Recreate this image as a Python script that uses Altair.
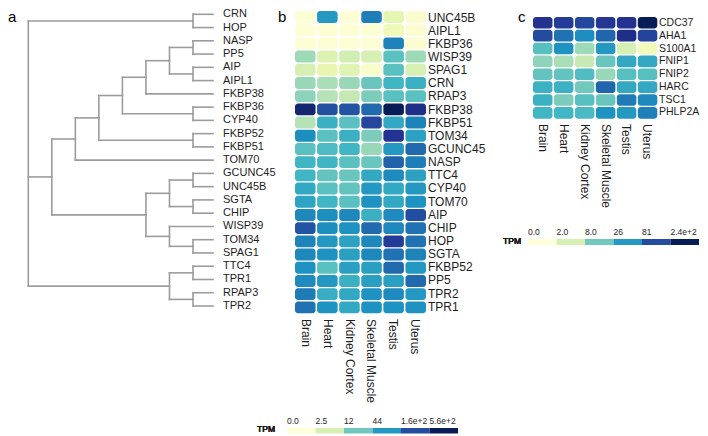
import math
import altair as alt
import pandas as pd

FONT = "Liberation Sans"
TXT = "#1e1e1e"

# ---------------- data ----------------
tissues = ["Brain", "Heart", "Kidney Cortex", "Skeletal Muscle", "Testis", "Uterus"]

# dendrogram (panel a): leaf order and merges (children, merge height)
leaf_order = ["CRN", "HOP", "NASP", "PP5", "AIP", "AIPL1", "FKBP38", "FKBP36", "CYP40",
              "FKBP52", "FKBP51", "TOM70", "GCUNC45", "UNC45B", "SGTA", "CHIP", "WISP39",
              "TOM34", "SPAG1", "TTC4", "TPR1", "RPAP3", "TPR2"]
merge_names = ["m_crn", "m_nasp", "m_aip", "m_fk36", "m_fk52", "m_gc", "m_sgta", "m_tom34",
               "m_ttc4", "m_rpap", "m2a", "m3a", "m4a", "m5a", "m6a", "m2b", "m2c", "m3b",
               "m7", "m2d", "root"]
merge_children = [["CRN", "HOP"], ["NASP", "PP5"], ["AIP", "AIPL1"], ["FKBP36", "CYP40"],
                  ["FKBP52", "FKBP51"], ["GCUNC45", "UNC45B"], ["SGTA", "CHIP"],
                  ["TOM34", "SPAG1"], ["TTC4", "TPR1"], ["RPAP3", "TPR2"],
                  ["m_nasp", "m_aip"], ["m2a", "FKBP38"], ["m3a", "m_fk36"], ["m4a", "m_fk52"],
                  ["m5a", "TOM70"], ["m_gc", "m_sgta"], ["WISP39", "m_tom34"], ["m2b", "m2c"],
                  ["m6a", "m3b"], ["m_ttc4", "m_rpap"], ["m_crn", "m7", "m2d"]]
merge_heights = [0.85, 0.85, 0.85, 0.85, 0.85, 0.85, 0.85, 0.85, 0.85, 0.85,
                 1.85, 2.85, 3.85, 4.85, 5.85, 1.85, 1.85, 2.85, 6.85, 1.85, 7.85]

# heatmap b (TPM)
b_genes = ["UNC45B", "AIPL1", "FKBP36", "WISP39", "SPAG1", "CRN", "RPAP3", "FKBP38",
           "FKBP51", "TOM34", "GCUNC45", "NASP", "TTC4", "CYP40", "TOM70", "AIP", "CHIP",
           "HOP", "SGTA", "FKBP52", "PP5", "TPR2", "TPR1"]
b_tpm = [
    [0.1, 44, 0.1, 69, 1.6, 0.2],
    [0.1, 0.1, 0.1, 0.1, 0.9, 0.2],
    [0.1, 0.1, 0.1, 0.1, 64, 0.2],
    [6.6, 2.1, 3.0, 2.5, 16, 6.6],
    [2.5, 1.4, 1.9, 0.3, 16, 2.5],
    [7.1, 5.7, 7.1, 13, 23, 26],
    [8.2, 4.9, 3.9, 10, 16, 16],
    [408, 150, 138, 94, 560, 297],
    [4.9, 26, 16, 179, 31, 64],
    [53, 16, 26, 10, 262, 36],
    [16, 19, 23, 7.1, 44, 94],
    [23, 23, 16, 13, 107, 69],
    [23, 14, 13, 31, 57, 36],
    [31, 16, 14, 44, 31, 44],
    [34, 23, 16, 50, 31, 50],
    [60, 53, 60, 26, 57, 157],
    [138, 53, 50, 94, 60, 83],
    [64, 44, 36, 60, 216, 83],
    [60, 50, 38, 60, 83, 64],
    [50, 16, 38, 38, 94, 44],
    [57, 44, 26, 38, 38, 94],
    [73, 28, 31, 50, 57, 44],
    [83, 50, 31, 50, 50, 50],
]
b_legend_labels = ["0.0", "2.5", "12", "44", "1.6e+2", "5.6e+2"]
b_legend_values = [0, 2.5, 12, 44, 160, 560]
b_max = 560

# heatmap c (TPM)
c_genes = ["CDC37", "AHA1", "S100A1", "FNIP1", "FNIP2", "HARC", "TSC1", "PHLP2A"]
c_tpm = [
    [124, 105, 89, 117, 124, 240],
    [81, 45, 31, 54, 138, 94],
    [11, 29, 4.8, 26, 2.0, 0.7],
    [5.8, 4.2, 2.9, 9.0, 19, 19],
    [9.6, 9.6, 12, 5.1, 11, 11],
    [16, 16, 8.0, 54, 19, 19],
    [16, 7.0, 11, 9.0, 41, 34],
    [14.5, 14.5, 13, 29, 26, 38],
]
c_legend_labels = ["0.0", "2.0", "8.0", "26", "81", "2.4e+2"]
c_legend_values = [0, 2.0, 8.0, 26, 81, 240]
c_max = 240

# YlGnBu palette (9 classes)
ylgnbu = ["#ffffd9", "#edf8b1", "#c7e9b4", "#7fcdbb", "#41b6c4",
          "#1d91c0", "#225ea8", "#253494", "#081d58"]

# ---------------- derived tables ----------------
pos = {g: i for i, g in enumerate(leaf_order)}
hgt = {g: 0.0 for g in leaf_order}
segs = []
for name, kids, h in zip(merge_names, merge_children, merge_heights):
    ys = [pos[k] for k in kids]
    lo, hi = min(ys), max(ys)
    pos[name] = (lo + hi) / 2
    hgt[name] = h
    segs.append({"x": h, "x2": h, "y": lo, "y2": hi})
    for k in kids:
        segs.append({"x": hgt[k], "x2": h, "y": pos[k], "y2": pos[k]})
seg_df = pd.DataFrame(segs)
leaf_df = pd.DataFrame({"gene": leaf_order, "i": list(range(len(leaf_order)))})


def long_df(genes, mat):
    rows = []
    for g, vals in zip(genes, mat):
        for t, v in zip(tissues, vals):
            rows.append({"gene": g, "tissue": t, "tpm": v})
    return pd.DataFrame(rows)


b_df = long_df(b_genes, b_tpm)
c_df = long_df(c_genes, c_tpm)


def legend_df(labels, values):
    n = len(labels)
    return pd.DataFrame({"label": labels, "tpm": values,
                         "k": list(range(n)), "k2": [i + 1 for i in range(n)]})


bl_df = legend_df(b_legend_labels, b_legend_values)
cl_df = legend_df(c_legend_labels, c_legend_values)


def color_scale(vmax):
    top = math.log(vmax + 1)
    n = len(ylgnbu) - 1
    return alt.Scale(domain=[top * i / n for i in range(n + 1)], range=ylgnbu,
                     interpolate="rgb")


# ---------------- scales ----------------
dx = alt.Scale(domain=[0, max(merge_heights)], range=[205, 20.3], nice=False, zero=False)
dy = alt.Scale(domain=[0, len(leaf_order) - 1], range=[6.3, 298], nice=False, zero=False)

bx = alt.Scale(domain=tissues, range=[287, 418], paddingInner=0.07, paddingOuter=0)
by = alt.Scale(domain=b_genes, range=[3, 305.3], paddingInner=0.1, paddingOuter=0)
cx = alt.Scale(domain=tissues, range=[525, 649.3], paddingInner=0.07, paddingOuter=0)
cy = alt.Scale(domain=c_genes, range=[9, 110.7], paddingInner=0.1, paddingOuter=0)

bcol = color_scale(b_max)
ccol = color_scale(c_max)

blx = alt.Scale(domain=[0, 6], range=[279, 450], nice=False, zero=False)
clx = alt.Scale(domain=[0, 6], range=[520, 691], nice=False, zero=False)

layers = []

# panel a
layers.append(alt.Chart(seg_df).mark_rule(color="#9c9c9c", strokeWidth=1.6, strokeCap="square").encode(
    x=alt.X("x:Q", scale=dx, axis=None), x2="x2:Q",
    y=alt.Y("y:Q", scale=dy, axis=None), y2="y2:Q"))
layers.append(alt.Chart(leaf_df).mark_text(align="left", baseline="middle", fontSize=11,
                                           font=FONT, color=TXT).encode(
    x=alt.value(215), y=alt.Y("i:Q", scale=dy, axis=None), text="gene:N"))


def heat(df, xs, ys, cs, lab_x, col_y, row_fs, col_fs):
    out = []
    out.append(alt.Chart(df).transform_calculate(lv="log(datum.tpm + 1)").mark_rect(
        cornerRadius=3).encode(
        x=alt.X("tissue:N", scale=xs, axis=None),
        y=alt.Y("gene:N", scale=ys, axis=None),
        color=alt.Color("lv:Q", scale=cs, legend=None)))
    genes = list(ys.domain)
    out.append(alt.Chart(pd.DataFrame({"gene": genes})).mark_text(
        align="left", baseline="middle", fontSize=row_fs, font=FONT, color=TXT).encode(
        x=alt.value(lab_x), y=alt.Y("gene:N", scale=ys, axis=None), text="gene:N"))
    out.append(alt.Chart(pd.DataFrame({"tissue": tissues})).mark_text(
        align="left", baseline="middle", angle=90, fontSize=col_fs, font=FONT, color=TXT).encode(
        x=alt.X("tissue:N", scale=xs, axis=None), y=alt.value(col_y), text="tissue:N"))
    return out


def legend(df, xs, cs, bar_top, bar_bot, lab_base, tpm_x, tpm_y):
    out = []
    out.append(alt.Chart(df).transform_calculate(lv="log(datum.tpm + 1)").mark_rect().encode(
        x=alt.X("k:Q", scale=xs, axis=None), x2="k2:Q",
        y=alt.value(bar_top), y2=alt.value(bar_bot),
        color=alt.Color("lv:Q", scale=cs, legend=None)))
    out.append(alt.Chart(df).mark_text(align="left", baseline="alphabetic", fontSize=8.5,
                                       font=FONT, color=TXT).encode(
        x=alt.X("k:Q", scale=xs, axis=None),
        y=alt.value(lab_base), text="label:N"))
    out.append(alt.Chart(df).mark_text(text="TPM", align="right", baseline="middle", fontSize=8.5,
                                       font=FONT, color=TXT).encode(
        x=alt.value(tpm_x), y=alt.value(tpm_y)))
    return out


layers += heat(b_df, bx, by, bcol, 420, 311, 12, 12)
layers += legend(bl_df, blx, bcol, 420, 425.5, 416, 267, 421)
layers += heat(c_df, cx, cy, ccol, 651, 116, 10.5, 12)
layers += legend(cl_df, clx, ccol, 231, 237, 227, 513, 233)

for letter, lx, ly in [("a", 0, 14), ("b", 270, 14), ("c", 510, 14)]:
    layers.append(alt.Chart(pd.DataFrame({"t": [letter]})).mark_text(
        text=letter, align="left", baseline="alphabetic", fontSize=15, font=FONT, color="#000").encode(
        x=alt.value(lx), y=alt.value(ly)))

chart = alt.layer(*layers).resolve_scale(
    x="independent", y="independent", color="independent"
).properties(
    width=692, height=428, padding=0, autosize=alt.AutoSizeParams(type="none")
).configure_view(stroke=None)

chart.save("out.html", embed_options={"renderer": "svg", "actions": False})
